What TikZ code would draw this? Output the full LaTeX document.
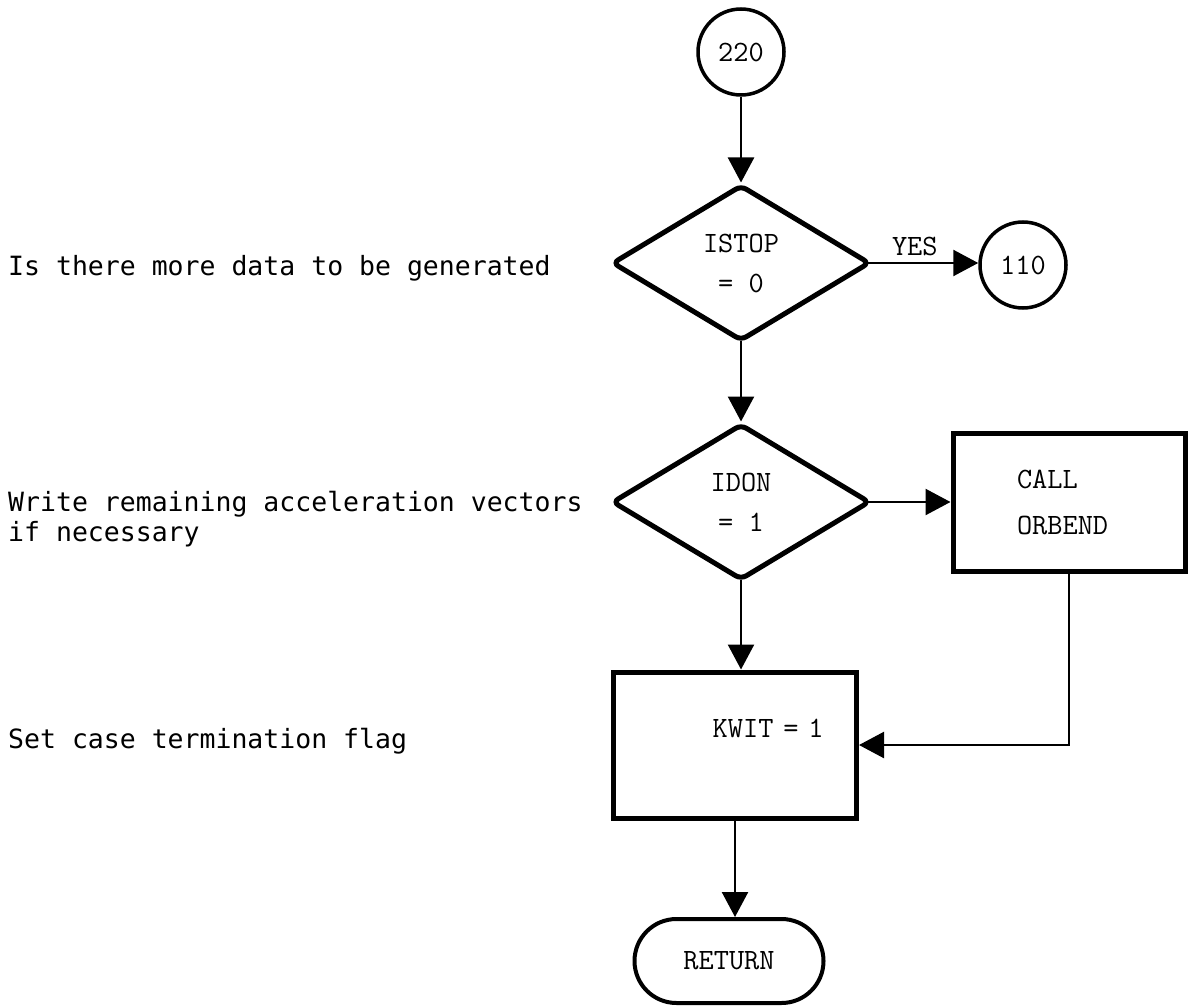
\documentclass[tikz,border=0pt]{standalone}
\usepackage{fontspec}
\newfontfamily\notefont{DejaVu Sans Mono}
\usetikzlibrary{shapes.geometric,shapes.misc,arrows.meta}
\newcommand\boxfont[1]{\ttfamily\fontsize{29.5}{#1}\selectfont}
\begin{document}
\begin{tikzpicture}[x=1pt,y=-1pt]

    \tikzset{
      connector/.style={
        line width=2.4pt,
        -{Triangle[length=25pt,width=26pt]},
      },
      decision/.style={
        diamond,
        draw,
        line width=5pt,
        rounded corners=6pt,
        inner sep=0pt,
        minimum width=258pt,
        minimum height=156pt,
        align=center,
        font=\boxfont{40},
      },
      process/.style={
        rectangle,
        draw,
        line width=5pt,
        inner sep=0pt,
        font=\boxfont{46},
      },
      connect/.style={
        circle,
        draw,
        line width=3.5pt,
        inner sep=0pt,
        minimum size=86pt,
        font=\boxfont{34},
      },
      note/.style={
        anchor=base west,
        inner sep=0pt,
        align=left,
        font=\notefont\fontsize{26.5}{30}\selectfont,
      },
    }
    \useasboundingbox (0,0) rectangle (1191,1008);

    \node[connect] (c220) at (741,52) {220};
    \node[decision] (istop) at (741,263) {ISTOP\\= 0};
    \node[connect] (c110) at (1023,265) {110};
    \node[decision] (idon) at (741,502) {IDON\\= 1};
    \node[process, minimum width=232pt, minimum height=138pt, text width=104pt, align=left] (orbend) at (1069,502) {CALL\\ORBEND};
    \node[process, minimum width=243pt, minimum height=146pt, text width=177pt, align=right,
      text height=18pt, text depth=34pt] (kwit) at (735,745) {KWIT~=~1};
    \node[rounded rectangle, draw, line width=4pt, inner sep=0pt, minimum width=189pt, minimum height=84pt,
      font=\boxfont{34}] (ret) at (729,961) {RETURN};

    \node[note] (isstop) at (8,276) {Is there more data to be generated};
    \node[note] (isdon) at (8,541) {Write remaining acceleration vectors\\if necessary};
    \node[note] (iskwit) at (8,748) {Set case termination flag};

    \draw[connector] (c220) -- (istop.north);
    \draw[connector, shorten <=-5pt] (istop.east) -- node[above=6pt, inner sep=0pt, pos=0.4,
      font=\boxfont{34}] (yes) {YES} (istop.east -| c110.west);
    \draw[connector, shorten <=-3pt] (istop.south) -- (idon.north);
    \draw[connector, shorten <=-5pt] (idon.east) -- (orbend.west);
    \draw[connector, shorten <=-3pt] (idon.south) -- (idon.south |- kwit.north);
    \draw[connector] (orbend.south) |- (kwit.east);
    \draw[connector] (kwit.south) -- (kwit.south |- ret.north);

\end{tikzpicture}
\end{document}
